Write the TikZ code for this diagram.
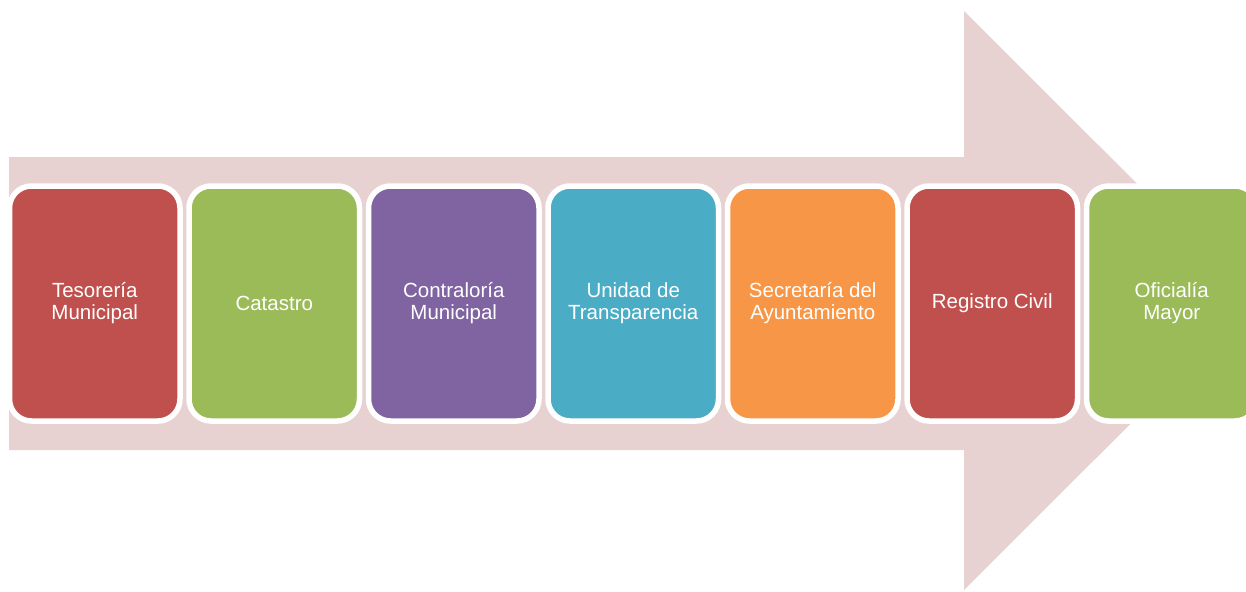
\documentclass[tikz,border=0pt]{standalone}
\usepackage{fontspec}
\setmainfont{Liberation Sans}
\definecolor{cred}{HTML}{C0504D}
\definecolor{cgreen}{HTML}{9BBB59}
\definecolor{cpurple}{HTML}{8064A2}
\definecolor{cteal}{HTML}{4BACC6}
\definecolor{corange}{HTML}{F79646}
\definecolor{arrowpink}{HTML}{E8D1D1}
\begin{document}
\begin{tikzpicture}[x=1pt,y=-1pt,
  stagebox/.style={draw=white, line width=5.5pt, rounded corners=22pt,
    minimum width=170.5pt, minimum height=235pt, inner sep=0pt,
    text=white, align=center,
    font=\fontsize{20.5pt}{22pt}\selectfont}]
\useasboundingbox (0,0) rectangle (1246,591);
\clip (0,0) rectangle (1246,591);
\fill[arrowpink] (9,157) -- (964,157) -- (964,11) -- (1254,300.5)
  -- (964,590) -- (964,450) -- (9,450) -- cycle;
\node[stagebox, fill=cred]    (b1) at (94.75,303.5)  {Tesorería\\Municipal};
\node[stagebox, fill=cgreen]  (b2) at (274.25,303.5) {Catastro};
\node[stagebox, fill=cpurple] (b3) at (453.75,303.5) {Contraloría\\Municipal};
\node[stagebox, fill=cteal]   (b4) at (633.25,303.5) {Unidad de\\Transparencia};
\node[stagebox, fill=corange] (b5) at (812.75,303.5) {Secretaría del\\Ayuntamiento};
\node[stagebox, fill=cred]    (b6) at (992.25,303.5) {Registro Civil};
\node[stagebox, fill=cgreen]  (b7) at (1171.75,303.5) {Oficialía\\Mayor};
\end{tikzpicture}
\end{document}
